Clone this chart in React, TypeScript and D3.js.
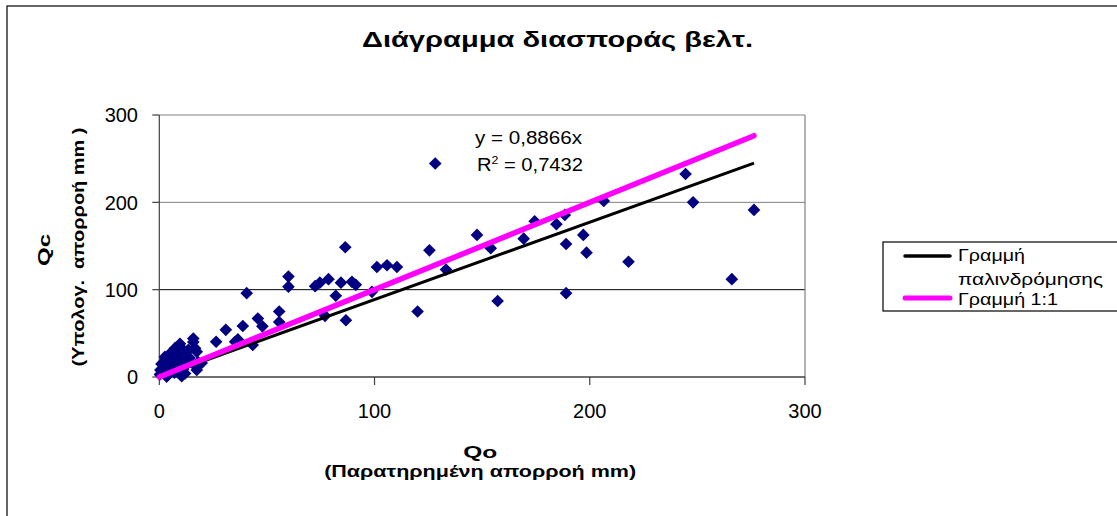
import React from "react";
import * as d3 from "d3";

const W = 1117;
const H = 516;

const titleText = "Διάγραμμα διασποράς βελτ.";
const xTitle1 = "Qo";
const xTitle2 = "(Παρατηρημένη απορροή mm)";
const yTitle1 = "Qc";
const yTitle2 = "(Υπολογ.  απορροή mm )";
const legendLabels = ["Γραμμή", "παλινδρόμησης", "Γραμμή 1:1"];
const eqText = "y = 0,8866x";
const r2Value = "0,7432";

const xTicks = [0, 100, 200, 300];
const yTicks = [0, 100, 200, 300];

const slope = 0.8866;
const lineXs = [0, 276.3];

// observed (Qo) values
const qo = [
  0.5, 1, 0.3, 2, 2.6, 3.4, 3.5, 4.2, 5, 5.5, 6, 7, 7.3, 7.5, 8.5, 9.6, 9.6, 10.4, 10, 11,
  12, 12.5, 13.5, 13.5, 14, 15.8, 15.8, 16.6, 17, 17.4, 17.4, 18, 19.7, 5, 3, 8, 11,
  26.4, 30.9, 35.2, 36.5, 38.8, 40.6, 43.4, 45.8, 47.9, 55.7, 55.7, 60, 60, 72.4, 74.6, 77,
  78.6, 82, 84.4, 86.4, 86.7, 89.5, 91.3, 98.8, 101.1, 105.8, 110.4, 120, 125.5, 128.2,
  133.2, 147.6, 154, 157.2, 169.3, 174.4, 184.5, 188.4, 189, 189, 197, 198.5, 206.5, 218,
  244.5, 248, 266, 276.3,
];
// computed (Qc) values
const qc = [
  8, 15, 3, 10, 23, 0.5, 18, 3, 27, 12, 22, 5, 33, 16, 25, 38, 35, 1, 20, 9,
  4, 28, 16, 31, 22, 44, 40, 33, 12, 29, 8, 17, 16, 14, 6, 10, 13,
  40.4, 54, 40.4, 43, 58.4, 96, 36.7, 67, 58, 75, 63, 115, 103.4, 104, 108, 70,
  112, 93, 108, 148.6, 65, 109, 105.5, 97.5, 126, 128, 126, 75, 145, 244.5,
  123, 162.7, 147.4, 87, 158.4, 178.3, 175, 185.6, 152.3, 96, 162.7, 142.4, 201.6, 132,
  232.5, 200, 112, 191.3,
];

export default function App() {
  const x = d3.scaleLinear().domain([0, 300]).range([159.3, 805]);
  const y = d3.scaleLinear().domain([0, 300]).range([377, 115]);

  const pts = qo.map((v, i) => [v, qc[i]] as [number, number]);
  const line = d3
    .line<number>()
    .x((d) => x(d))
    .y((d) => y(d));
  const regLine = d3
    .line<number>()
    .x((d) => x(d))
    .y((d) => y(d * slope));

  const diamond = d3.symbol(d3.symbolSquare, 80)() as string;
  const font = "Arial, 'Liberation Sans', sans-serif";

  const x0 = x(0), x1 = x(300), y0 = y(0), y1 = y(300);
  const cy = (y0 + y1) / 2;
  const cx = (x0 + x1) / 2 - 2;

  return (
    <div style={{ position: "absolute", left: 0, top: 0 }}>
      <svg width={W} height={H} style={{ display: "block", background: "#fff" }} fontFamily={font}>
        <rect x={7} y={6} width={W} height={H} fill="#fff" stroke="#000" strokeWidth={1.2} />
        <text x={557.5} y={47} textAnchor="middle" fontSize={22} fontWeight="bold" textLength={391} lengthAdjust="spacingAndGlyphs">
          {titleText}
        </text>

        {/* gridlines */}
        {yTicks.filter((t) => t > 0).map((t) => (
          <line key={"g" + t} x1={x0} x2={x1} y1={y(t)} y2={y(t)} stroke={t === 100 ? "#000" : "#808080"} strokeWidth={1} />
        ))}
        {/* plot border right */}
        <line x1={x1} x2={x1} y1={y1} y2={y0} stroke="#808080" strokeWidth={1.2} />
        {/* axes */}
        <line x1={x0} x2={x0} y1={y1} y2={y0} stroke="#404040" strokeWidth={1.2} />
        <line x1={x0} x2={x1} y1={y0} y2={y0} stroke="#404040" strokeWidth={1.5} />

        {yTicks.map((t) => (
          <g key={"yt" + t}>
            <line x1={x0 - 7} x2={x0} y1={y(t)} y2={y(t)} stroke="#404040" strokeWidth={1.2} />
            <text x={138} y={y(t)} dy="0.36em" textAnchor="end" fontSize={20}>
              {t}
            </text>
          </g>
        ))}
        {xTicks.map((t) => (
          <g key={"xt" + t}>
            <line x1={x(t)} x2={x(t)} y1={y0} y2={y0 + 8} stroke="#404040" strokeWidth={1.2} />
            <text x={x(t)} y={418} textAnchor="middle" fontSize={20}>
              {t}
            </text>
          </g>
        ))}

        {/* points */}
        {pts.map((p, i) => (
          <path key={"p" + i} d={diamond} transform={`translate(${x(p[0])},${y(p[1])}) rotate(45)`} fill="#000080" />
        ))}

        {/* lines */}
        <path d={regLine(lineXs) as string} fill="none" stroke="#000" strokeWidth={3} />
        <path d={line(lineXs) as string} fill="none" stroke="#FF00FF" strokeWidth={5.5} strokeLinecap="round" />

        {/* equation */}
        <text x={475} y={144} fontSize={18} textLength={107} lengthAdjust="spacingAndGlyphs">
          {eqText}
        </text>
        <text x={477} y={171} fontSize={18} textLength={106} lengthAdjust="spacingAndGlyphs">
          R<tspan fontSize={11} dy={-7}>2</tspan>
          <tspan dy={7}>{" = " + r2Value}</tspan>
        </text>

        {/* axis titles */}
        <text x={cx} y={458} textAnchor="middle" fontSize={16} fontWeight="bold" textLength={34} lengthAdjust="spacingAndGlyphs">
          {xTitle1}
        </text>
        <text x={cx} y={477} textAnchor="middle" fontSize={16} fontWeight="bold" textLength={312} lengthAdjust="spacingAndGlyphs">
          {xTitle2}
        </text>
        <text transform={`translate(50,${cy + 4}) rotate(-90)`} textAnchor="middle" fontSize={16} fontWeight="bold" textLength={32} lengthAdjust="spacingAndGlyphs">
          {yTitle1}
        </text>
        <text transform={`translate(84,${cy + 1}) rotate(-90)`} textAnchor="middle" fontSize={16} fontWeight="bold" textLength={239} lengthAdjust="spacingAndGlyphs" xmlSpace="preserve">
          {yTitle2}
        </text>

        {/* legend */}
        <rect x={883} y={242} width={300} height={69} fill="#fff" stroke="#000" strokeWidth={1.2} />
        <line x1={905} x2={950} y1={256} y2={256} stroke="#000" strokeWidth={3.5} strokeLinecap="round" />
        <text x={958} y={261} fontSize={16} textLength={67} lengthAdjust="spacingAndGlyphs">
          {legendLabels[0]}
        </text>
        <text x={958} y={285} fontSize={16} textLength={145} lengthAdjust="spacingAndGlyphs">
          {legendLabels[1]}
        </text>
        <line x1={905} x2={950} y1={298} y2={298} stroke="#FF00FF" strokeWidth={5} strokeLinecap="round" />
        <text x={958} y={305} fontSize={16} textLength={100} lengthAdjust="spacingAndGlyphs">
          {legendLabels[2]}
        </text>
      </svg>
    </div>
  );
}
